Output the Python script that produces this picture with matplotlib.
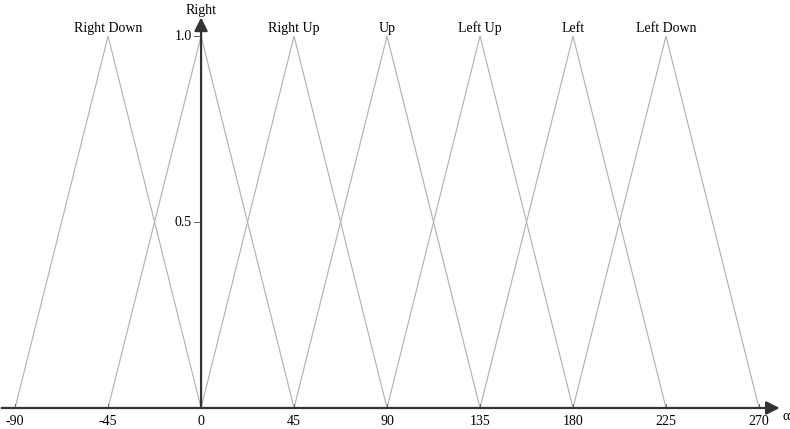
import numpy as np
import matplotlib.pyplot as plt

plt.rcParams['font.family'] = ['Liberation Serif', 'DejaVu Serif']

# membership function centres (degrees), half width 45
centres = [-45, 0, 45, 90, 135, 180, 225]
names = ['Right Down', 'Right', 'Right Up', 'Up', 'Left Up', 'Left', 'Left Down']
half_width = 45
xticks = [-90, -45, 0, 45, 90, 135, 180, 225, 270]
yticks = [0.5, 1.0]

fig = plt.figure(figsize=(7.9, 4.29), dpi=100)
ax = fig.add_axes([0, 0, 1, 1])
ax.set_xlim(-97.3, 285.0)
ax.set_ylim(-0.0565, 1.097)
ax.axis('off')

fs = 10
for c, name in zip(centres, names):
    ax.plot([c - half_width, c, c + half_width], [0, 1, 0], color='#b0b0b0', lw=0.8)
    if name != 'Right':
        ax.text(c, 1.012, name, ha='center', va='baseline', fontsize=fs)

# axes with arrows
ax.annotate('', xy=(280, 0), xytext=(-96.5, 0),
            arrowprops=dict(arrowstyle='-|>', color='#333333', lw=1.6,
                            mutation_scale=20, shrinkA=0, shrinkB=0))
ax.annotate('', xy=(0, 1.05), xytext=(0, 0),
            arrowprops=dict(arrowstyle='-|>', color='#333333', lw=1.6,
                            mutation_scale=20, shrinkA=0, shrinkB=0))

for t in xticks:
    ax.plot([t, t], [0, 0.01], color='#666666', lw=0.7)
    ax.text(t, -0.02, str(t), ha='center', va='top', fontsize=fs)

for t in yticks:
    ax.plot([-3.4, 0], [t, t], color='#666666', lw=0.7)
    ax.text(-4.4, t, '%.1f' % t, ha='right', va='center', fontsize=fs)

ax.text(0, 1.07, 'Right', ha='center', va='center', fontsize=fs)
ax.text(283.3, -0.022, 'α', ha='center', va='center', fontsize=fs)

fig.savefig('out.png', dpi=100)
